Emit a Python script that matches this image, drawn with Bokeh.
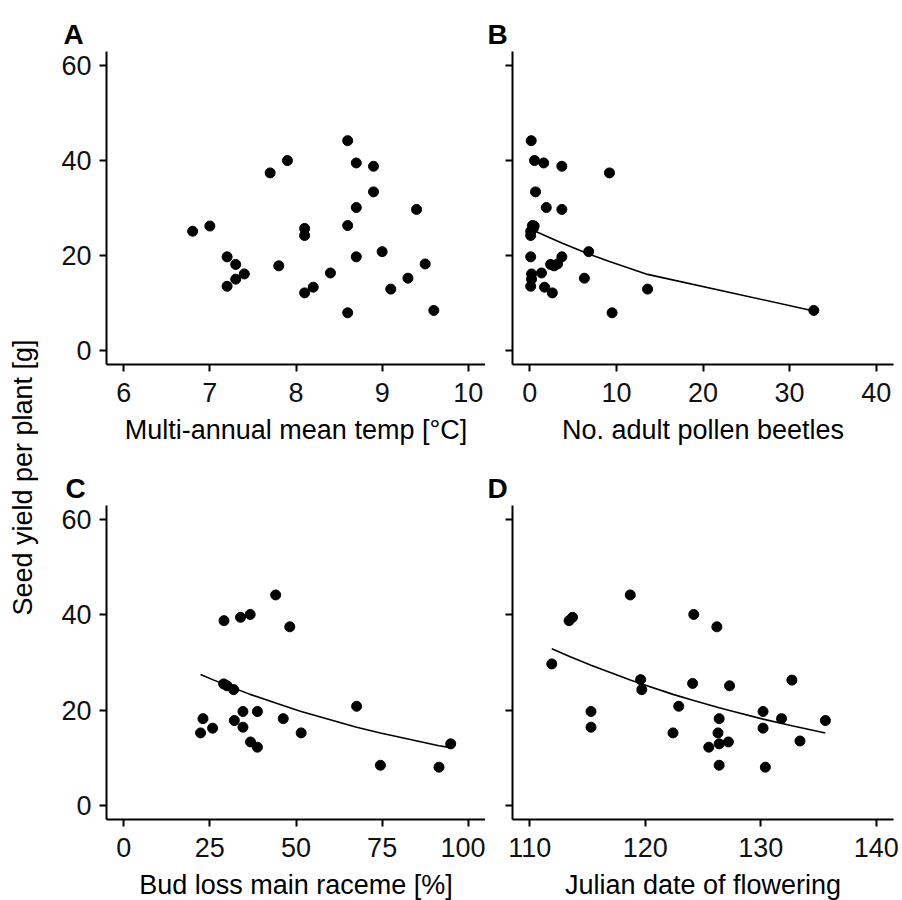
import numpy as np
from bokeh.plotting import figure
from bokeh.layouts import row, column
from bokeh.models import Range1d, FixedTicker
from bokeh.embed import file_html
from bokeh.resources import INLINE
from bokeh.core.properties import value

FONT = "Liberation Sans"

# ---------------- data ----------------
# Panel A: multi-annual mean temperature vs seed yield
temp_x = [8.6, 7.9, 7.7, 8.7, 8.9, 8.9, 8.7, 9.4, 6.8, 7.0, 8.1, 8.1, 8.6, 7.2, 7.3,
          7.4, 7.3, 7.2, 7.8, 8.1, 8.2, 8.4, 8.7, 9.0, 8.6, 9.1, 9.3, 9.5, 9.6]
temp_y = [44.2, 40.0, 37.4, 39.5, 38.8, 33.4, 30.1, 29.7, 25.1, 26.2, 25.7, 24.2, 26.3, 19.7, 18.1,
          16.1, 15.0, 13.5, 17.8, 12.1, 13.3, 16.3, 19.7, 20.8, 7.9, 12.9, 15.2, 18.2, 8.4]

# Panel B: number of adult pollen beetles vs seed yield
beetle_x = [0.16, 0.54, 1.6, 3.7, 9.2, 0.66, 1.9, 3.7, 0.3, 0.5, 0.4, 0.1, 0.1, 6.8, 0.1,
            3.7, 2.4, 3.2, 2.8, 0.2, 1.35, 0.2, 0.1, 6.3, 1.7, 2.6, 13.6, 9.5, 32.8]
beetle_y = [44.2, 40.0, 39.5, 38.8, 37.4, 33.4, 30.1, 29.7, 26.3, 26.2, 25.7, 25.1, 24.2, 20.8, 19.7,
            19.7, 18.1, 18.2, 17.8, 16.1, 16.3, 15.0, 13.5, 15.2, 13.3, 12.1, 12.9, 7.9, 8.4]
beetle_fit_x = [0.1, 0.5, 1.6, 3.7, 6.8, 9.2, 13.6, 32.8]
beetle_fit_y = [25.5, 25.2, 24.3, 22.6, 20.3, 18.7, 16.0, 8.3]

# Panel C: bud loss on main raceme vs seed yield
budloss_x = [44.1, 29.1, 33.9, 36.7, 48.2, 29.0, 30.0, 31.9, 23.0, 25.8, 22.3, 34.6, 38.8, 32.1,
             34.6, 36.8, 38.8, 46.3, 51.5, 67.6, 74.5, 91.5, 94.9]
budloss_y = [44.2, 38.8, 39.5, 40.1, 37.5, 25.5, 25.1, 24.3, 18.2, 16.2, 15.2, 19.7, 19.7, 17.8,
             16.4, 13.3, 12.2, 18.2, 15.2, 20.8, 8.4, 8.0, 12.9]
budloss_fit_x = [22.3, 25.8, 29.0, 32.1, 36.7, 44.1, 48.2, 51.5, 67.6, 74.5, 91.5, 94.9]
budloss_fit_y = [27.5, 26.4, 25.5, 24.6, 23.3, 21.5, 20.5, 19.7, 16.4, 15.2, 12.5, 12.1]

# Panel D: Julian date of flowering vs seed yield
flower_x = [118.7, 113.4, 113.7, 124.2, 126.2, 111.9, 119.6, 119.7, 124.1, 127.3, 132.7, 115.3, 115.3,
            122.9, 122.4, 126.4, 126.3, 126.4, 125.5, 127.2, 126.4, 130.2, 130.2, 130.4, 131.8, 133.4, 135.6]
flower_y = [44.2, 38.8, 39.5, 40.1, 37.5, 29.7, 26.4, 24.3, 25.6, 25.1, 26.3, 19.7, 16.4,
            20.8, 15.2, 18.2, 15.2, 12.9, 12.2, 13.3, 8.4, 19.7, 16.2, 8.0, 18.2, 13.5, 17.8]
flower_fit_x = [111.9, 113.5, 115.3, 118.7, 119.7, 122.4, 124.2, 126.4, 127.3, 130.2, 132.7, 135.6]
flower_fit_y = [32.9, 31.2, 29.4, 26.3, 25.5, 23.3, 22.0, 20.5, 19.9, 18.1, 16.7, 15.2]

y_ticks = [0, 20, 40, 60]
x_ticks_a = [6, 7, 8, 9, 10]
x_ticks_b = [0, 10, 20, 30, 40]
x_ticks_c = [0, 25, 50, 75, 100]
x_ticks_d = [110, 120, 130, 140]

y_title = "Seed yield per plant [g]"

FS = "27px"


def style_axis(ax, ticks, show_labels=True, standoff=8):
    ax.ticker = FixedTicker(ticks=ticks)
    ax.axis_line_color = "black"
    ax.axis_line_width = 2
    ax.major_tick_line_color = "black"
    ax.major_tick_line_width = 2
    ax.major_tick_in = 0
    ax.major_tick_out = 7
    ax.minor_tick_line_color = None
    ax.major_label_text_font = FONT
    ax.major_label_text_font_size = FS
    ax.major_label_text_color = "#111111"
    ax.axis_label_text_font = FONT
    ax.axis_label_text_font_size = FS
    ax.axis_label_text_font_style = "normal"
    ax.axis_label_text_color = "black"
    if show_labels:
        ax.major_label_standoff = standoff
    else:
        ax.major_label_standoff = 0
        ax.major_label_overrides = {t: "" for t in ticks}


def panel(label, xr, xticks, xlabel, px, py, fx, fy, ml, mr, mt, mb, fw, fh,
          show_y, title_offset):
    p = figure(frame_width=fw, frame_height=fh,
               x_range=Range1d(*xr), y_range=Range1d(-3, 63),
               min_border_left=ml, min_border_right=mr,
               min_border_top=mt, min_border_bottom=mb,
               output_backend="svg", toolbar_location=None,
               title=label)
    p.title.align = "left"
    p.title.offset = title_offset
    p.title.standoff = 4
    p.title.text_font = FONT
    p.title.text_font_size = "28px"
    p.title.text_font_style = "bold"
    p.title.text_color = "black"
    p.xgrid.visible = False
    p.ygrid.visible = False
    p.outline_line_color = None
    p.background_fill_color = "white"
    p.border_fill_color = "white"
    style_axis(p.xaxis[0], xticks, True, standoff=11)
    style_axis(p.yaxis[0], y_ticks, show_y, standoff=8)
    p.xaxis[0].axis_label = xlabel
    p.xaxis[0].axis_label_standoff = 10
    if fx is not None:
        p.line(fx, fy, line_color="black", line_width=1.6)
    p.scatter(px, py, size=10, fill_color="black", line_color="black")
    return p


pA = panel("A", (5.8, 10.2), x_ticks_a, "Multi-annual mean temp [°C]", temp_x, temp_y, None, None,
           66, 0, 51, 91, 379, 313, True, -43)
pB = panel("B", (-2, 42), x_ticks_b, "No. adult pollen beetles", beetle_x, beetle_y,
           beetle_fit_x, beetle_fit_y, 27, 9, 51, 91, 381, 313, False, -25)
pC = panel("C", (-5, 105), x_ticks_c, "Bud loss main raceme [%]", budloss_x, budloss_y,
           budloss_fit_x, budloss_fit_y, 66, 0, 50, 80, 379, 314, True, -41)
pD = panel("D", (108.5, 141.5), x_ticks_d, "Julian date of flowering", flower_x, flower_y,
           flower_fit_x, flower_fit_y, 27, 9, 50, 80, 381, 314, False, -25)

yl = figure(width=40, height=899, x_range=Range1d(0, 40), y_range=Range1d(0, 899),
            min_border=0, x_axis_location=None, y_axis_location=None,
            output_backend="svg", toolbar_location=None)
yl.xgrid.visible = False
yl.ygrid.visible = False
yl.outline_line_color = None
yl.text(x=[22], y=[422], text=[y_title], angle=np.pi / 2,
        text_align="center", text_baseline="alphabetic",
        text_font=value(FONT), text_font_size=FS, text_color="black")

layout = row(yl, column(row(pA, pB), row(pC, pD)))

open("out.html", "w").write(file_html(layout, INLINE))
